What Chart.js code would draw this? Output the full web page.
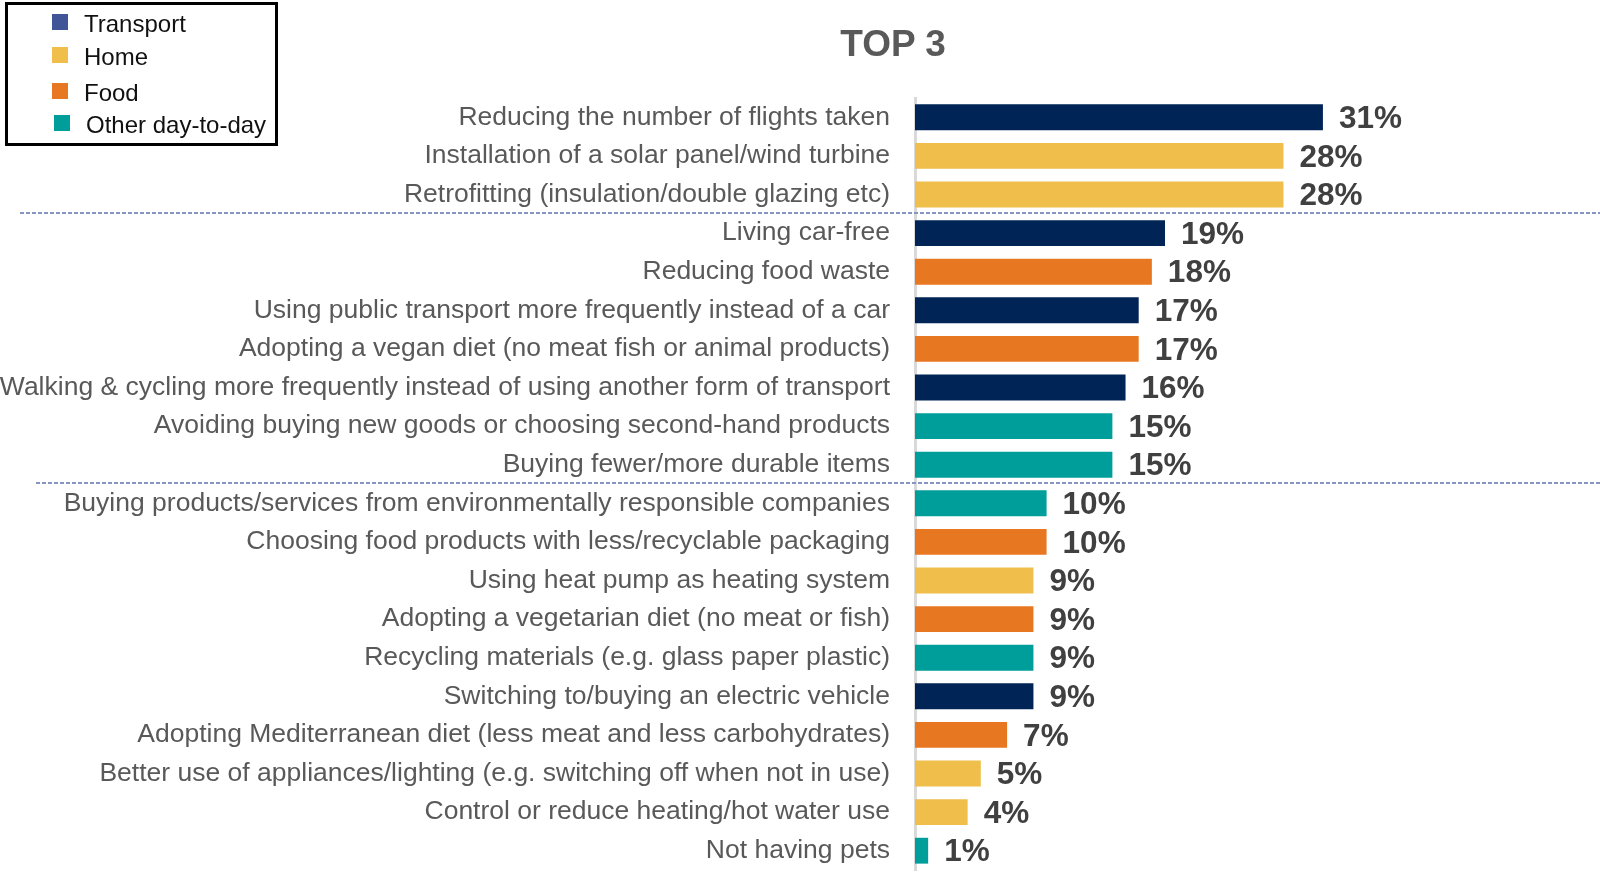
<!DOCTYPE html>
<html>
<head>
<meta charset="utf-8">
<script src="https://cdn.jsdelivr.net/npm/chart.js"></script>
<style>
  html, body { margin: 0; padding: 0; background: #fff; }
  #wrap { position: relative; width: 1600px; height: 872px; overflow: hidden; }
  #titulo {
    position: absolute; left: 793px; top: 23px; width: 200px; text-align: center;
    font: bold 37px "Liberation Sans", Arial, sans-serif; color: #595959;
  }
  #legenda {
    position: absolute; left: 5px; top: 2px; width: 267px; height: 138px;
    border: 3px solid #000; box-sizing: content-box;
    font: 24px "Liberation Sans", Arial, sans-serif; color: #111;
  }
  #legenda .item { position: absolute; left: 44px; height: 30px; line-height: 30px; white-space: nowrap; }
  #legenda .quad { display: inline-block; width: 16px; height: 16px; vertical-align: middle; margin-right: 16px; position: relative; top: -4px; }
</style>
</head>
<body>
<div id="wrap">
  <canvas id="grafico"></canvas>
  <div id="titulo">TOP 3</div>
  <div id="legenda"></div>
</div>
<script>
// Acções e percentagens (ordem do gráfico, de cima para baixo)
const categorias = [
  'Reducing the number of flights taken',
  'Installation of a solar panel/wind turbine',
  'Retrofitting (insulation/double glazing etc)',
  'Living car-free',
  'Reducing food waste',
  'Using public transport more frequently instead of a car',
  'Adopting a vegan diet (no meat fish or animal products)',
  'Walking & cycling more frequently instead of using another form of transport',
  'Avoiding buying new goods or choosing second-hand products',
  'Buying fewer/more durable items',
  'Buying products/services from environmentally responsible companies',
  'Choosing food products with less/recyclable packaging',
  'Using heat pump as heating system',
  'Adopting a vegetarian diet (no meat or fish)',
  'Recycling materials (e.g. glass paper plastic)',
  'Switching to/buying an electric vehicle',
  'Adopting Mediterranean diet (less meat and less carbohydrates)',
  'Better use of appliances/lighting (e.g. switching off when not in use)',
  'Control or reduce heating/hot water use',
  'Not having pets'
];
const valores = [31, 28, 28, 19, 18, 17, 17, 16, 15, 15, 10, 10, 9, 9, 9, 9, 7, 5, 4, 1];
const grupos = [
  'Transport', 'Home', 'Home', 'Transport', 'Food', 'Transport', 'Food', 'Transport', 'Other day-to-day', 'Other day-to-day',
  'Other day-to-day', 'Food', 'Home', 'Food', 'Other day-to-day', 'Transport', 'Food', 'Home', 'Home', 'Other day-to-day'
];
// Separadores tracejados depois destes índices
const separadores = [2, 9];

const nomesGrupo = ['Transport', 'Home', 'Food', 'Other day-to-day'];
const corBarra = { 'Transport': '#002456', 'Home': '#f0be4a', 'Food': '#e87722', 'Other day-to-day': '#009e9a' };
const corLegenda = { 'Transport': '#3f5597', 'Home': '#f0be4a', 'Food': '#e87722', 'Other day-to-day': '#009e9a' };

// Legenda em caixa no canto superior esquerdo
const legenda = document.getElementById('legenda');
const topos = [4, 37, 73, 105];
nomesGrupo.forEach((g, i) => {
  const div = document.createElement('div');
  div.className = 'item';
  div.style.top = topos[i] + 'px';
  if (i === 3) div.style.left = '46px';
  div.innerHTML = `<span class="quad" style="background:${corLegenda[g]}"></span>${g}`;
  legenda.appendChild(div);
});

// Linhas tracejadas entre os blocos
const pluginSeparadores = {
  id: 'separadores',
  afterDatasetsDraw(chart) {
    const y = chart.scales.y;
    const ctx = chart.ctx;
    const inicio = [20, 36];
    ctx.save();
    ctx.strokeStyle = '#8596c2';
    ctx.lineWidth = 2;
    ctx.setLineDash([4, 2]);
    separadores.forEach((idx, k) => {
      const py = Math.round((y.getPixelForValue(idx) + y.getPixelForValue(idx + 1)) / 2) - 1;
      ctx.beginPath();
      ctx.moveTo(inicio[k], py);
      ctx.lineTo(chart.width, py);
      ctx.stroke();
    });
    ctx.restore();
  }
};

// Percentagem à direita de cada barra
const pluginValores = {
  id: 'valores',
  afterDatasetsDraw(chart) {
    const ctx = chart.ctx;
    const meta = chart.getDatasetMeta(0);
    ctx.save();
    ctx.font = 'bold 31.5px "Liberation Sans", Arial, sans-serif';
    ctx.fillStyle = '#404040';
    ctx.textAlign = 'left';
    ctx.textBaseline = 'middle';
    meta.data.forEach((bar, i) => {
      ctx.fillText(valores[i] + '%', bar.x + 16, bar.y + 2);
    });
    ctx.restore();
  }
};

new Chart(document.getElementById('grafico'), {
  type: 'bar',
  data: {
    labels: categorias,
    datasets: [{
      data: valores,
      backgroundColor: grupos.map(g => corBarra[g]),
      barPercentage: 0.67,
      categoryPercentage: 1
    }]
  },
  options: {
    indexAxis: 'y',
    responsive: true,
    maintainAspectRatio: false,
    animation: false,
    layout: { padding: { top: 98, bottom: 2, left: 0, right: 6 } },
    scales: {
      x: { display: false, min: 0, max: 51.6 },
      y: {
        grid: { display: false, drawTicks: false },
        border: { display: true, color: '#d9d9d9', width: 3 },
        ticks: {
          color: '#595959',
          padding: 25,
          autoSkip: false,
          font: { family: '"Liberation Sans", Arial, sans-serif', size: 26.5 }
        },
        afterFit(scale) {
          // largura fixa para os rótulos e sem folga extra em cima/baixo
          scale.width = 915;
          scale.paddingTop = 0;
          scale.paddingBottom = 0;
        }
      }
    },
    plugins: {
      legend: { display: false },
      tooltip: { enabled: false },
      title: { display: false }
    }
  },
  plugins: [pluginSeparadores, pluginValores]
});
</script>
</body>
</html>
